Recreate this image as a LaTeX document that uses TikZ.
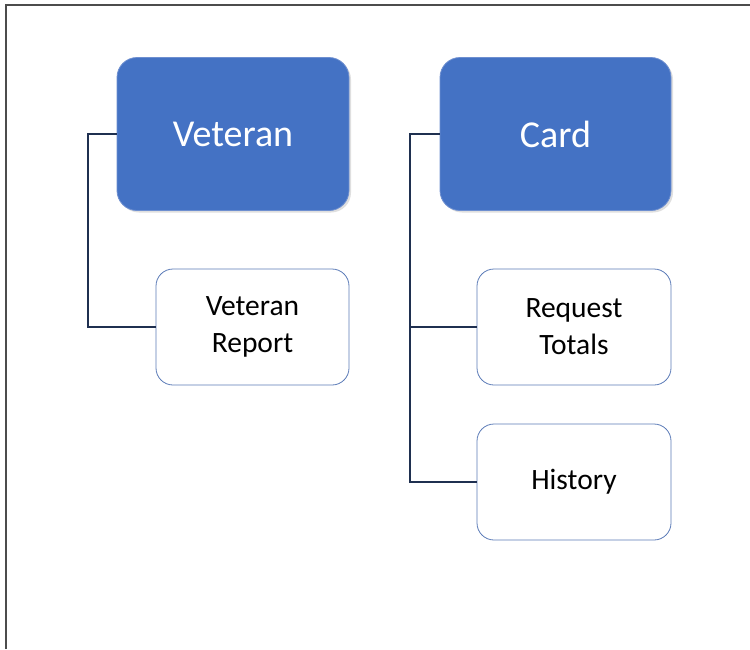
\documentclass[tikz,border=0pt]{standalone}
\usepackage{fontspec}
\setmainfont{Carlito}
\usetikzlibrary{shadows}
\definecolor{hdrblue}{HTML}{4472C4}
\definecolor{hdredge}{HTML}{6E8FD0}
\definecolor{kidedge}{HTML}{5B7BB8}
\definecolor{linkcol}{HTML}{1F3050}
\begin{document}
\begin{tikzpicture}[x=1pt,y=-1pt,
  hdr/.style={draw=hdredge, line width=0.8pt, fill=hdrblue, rounded corners=20pt,
    text=white, font=\fontsize{38}{44}\selectfont, align=center,
    drop shadow={shadow xshift=2pt, shadow yshift=-2pt, opacity=0.25}},
  kid/.style={draw=kidedge, line width=0.8pt, fill=white, rounded corners=17pt,
    text=black, font=\fontsize{29.5}{37}\selectfont, align=center},
  link/.style={draw=linkcol, line width=1.6pt}]
\useasboundingbox (0,0) rectangle (750,649);
\fill[white] (0,0) rectangle (750,649);
\draw[gray!60!black, line width=2pt] (6,649) -- (6,5) -- (750,5);
% boxes
\node[hdr, minimum width=232pt, minimum height=153pt] (vet) at (233,134) {Veteran};
\node[kid, minimum width=193pt, minimum height=116pt] (vrep) at (252.5,327) {Veteran\\Report};
\node[hdr, minimum width=231pt, minimum height=153pt] (card) at (555.5,134) {Card};
\node[kid, minimum width=194pt, minimum height=116pt] (req) at (574,327) {Request\\Totals};
\node[kid, minimum width=194pt, minimum height=116pt] (hist) at (574,482) {History};
% connectors
\coordinate (vx) at (88,0);
\coordinate (cx) at (410,0);
\draw[link] (vet.west) -- (vet.west -| vx) -- (vrep.west -| vx) -- (vrep.west);
\draw[link] (card.west) -- (card.west -| cx) -- (hist.west -| cx) -- (hist.west);
\draw[link] (req.west -| cx) -- (req.west);
\end{tikzpicture}
\end{document}
